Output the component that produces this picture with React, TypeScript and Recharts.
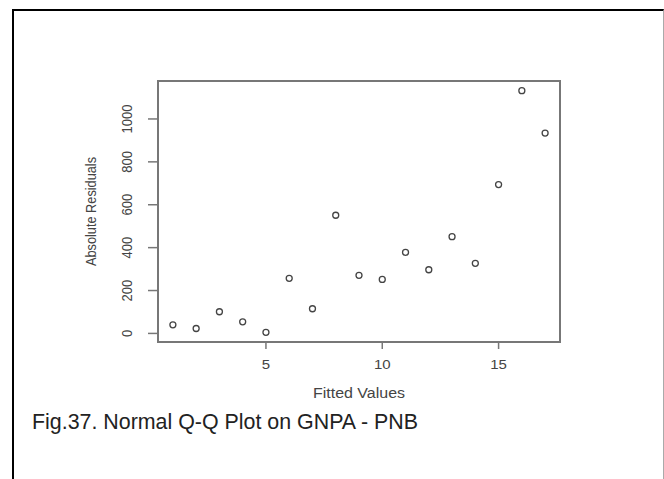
import { ScatterChart, Scatter, XAxis, YAxis, ReferenceArea, Label } from "recharts";

const fittedValues = [1, 2, 3, 4, 5, 6, 7, 8, 9, 10, 11, 12, 13, 14, 15, 16, 17];
const absResiduals = [40, 23, 101, 54, 5, 257, 115, 551, 271, 252, 378, 297, 451, 327, 694, 1132, 934];
const xTicks = [5, 10, 15];
const yTicks = [0, 200, 400, 600, 800, 1000];
const xDomain: [number, number] = [0.36, 17.64];
const yDomain: [number, number] = [-40, 1177];

const points = fittedValues.map((x, i) => ({ x, y: absResiduals[i] }));

const font = "'Liberation Sans', Arial, sans-serif";
const ink = "#444";

const YTick = (props: any) => {
  const { x, y, payload } = props;
  return (
    <text
      transform={`translate(${x},${y}) rotate(-90) scale(0.87,1)`}
      textAnchor="middle"
      fontSize={15}
      fontFamily={font}
      fill={ink}
    >
      {payload.value}
    </text>
  );
};

const XTick = (props: any) => {
  const { x, y, payload } = props;
  return (
    <text
      transform={`translate(${x},${y}) scale(1,0.87)`}
      textAnchor="middle"
      fontSize={15}
      fontFamily={font}
      fill={ink}
    >
      {payload.value}
    </text>
  );
};

const XTitle = (props: any) => {
  const vb = props.viewBox;
  return (
    <text
      transform={`translate(${vb.x + vb.width / 2},${vb.y + 56}) scale(1,0.87)`}
      textAnchor="middle"
      fontSize={16}
      fontFamily={font}
      fill={ink}
    >
      Fitted Values
    </text>
  );
};

const YTitle = (props: any) => {
  const vb = props.viewBox;
  return (
    <text
      transform={`translate(${vb.x + 8},${vb.y + vb.height / 2}) rotate(-90) scale(0.85,1)`}
      textAnchor="middle"
      fontSize={15}
      fontFamily={font}
      fill={ink}
    >
      Absolute Residuals
    </text>
  );
};

const OpenCircle = (props: any) => (
  <circle cx={props.cx} cy={props.cy} r={3} fill="#fff" stroke="#444" strokeWidth={1.3} />
);

export default function App() {
  return (
    <div style={{ position: "absolute", left: 0, top: 0, width: 664, height: 479, background: "#fff" }}>
      <div
        style={{
          position: "absolute",
          left: 12,
          top: 9,
          width: 649,
          height: 470,
          borderLeft: "2px solid #000",
          borderTop: "2px solid #000",
          borderRight: "1px solid #aaa",
        }}
      />
      <div style={{ position: "absolute", left: 0, top: 0 }}>
        <ScatterChart width={664} height={479} margin={{ top: 81, right: 104, bottom: 77, left: 88 }}>
          <XAxis
            type="number"
            dataKey="x"
            domain={xDomain}
            ticks={xTicks}
            allowDataOverflow
            height={60}
            axisLine={false}
            tickSize={7}
            tickMargin={20}
            tickLine={{ stroke: "#777", strokeWidth: 1.5 }}
            tick={<XTick />}
          >
            <Label content={<XTitle />} />
          </XAxis>
          <YAxis
            type="number"
            dataKey="y"
            domain={yDomain}
            ticks={yTicks}
            allowDataOverflow
            width={70}
            axisLine={false}
            tickSize={10}
            tickMargin={16}
            tickLine={{ stroke: "#777", strokeWidth: 1.5 }}
            tick={<YTick />}
          >
            <Label content={<YTitle />} />
          </YAxis>
          <ReferenceArea
            x1={xDomain[0]}
            x2={xDomain[1]}
            y1={yDomain[0]}
            y2={yDomain[1]}
            fill="none"
            stroke="#777"
            strokeWidth={2}
            ifOverflow="visible"
          />
          <Scatter data={points} shape={<OpenCircle />} isAnimationActive={false} />
        </ScatterChart>
      </div>
      <div
        style={{
          position: "absolute",
          left: 32,
          top: 412,
          fontFamily: font,
          fontSize: 21.4,
          lineHeight: "21px",
          color: "#222",
          whiteSpace: "nowrap",
        }}
      >
        Fig.37. Normal Q-Q Plot on GNPA - PNB
      </div>
    </div>
  );
}
